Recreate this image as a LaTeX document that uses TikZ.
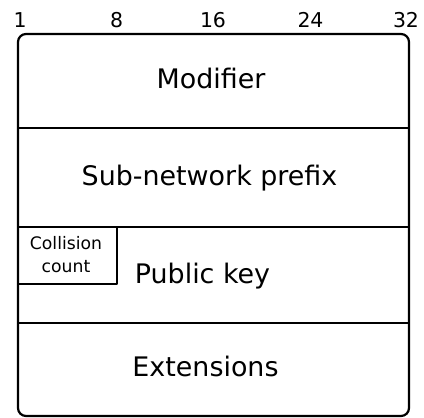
\documentclass[tikz,border=0pt]{standalone}
\usepackage{fontspec}
\setmainfont{DejaVu Sans}
\begin{document}
\begin{tikzpicture}[x=1bp,y=-1bp,
  frame/.style={line width=2.2bp,line join=round},
  bits/.style={anchor=base,inner sep=0pt,font=\fontsize{20.5}{24}\selectfont},
  field/.style={anchor=base,inner sep=0pt,font=\fontsize{27}{32}\selectfont},
  small/.style={anchor=base,inner sep=0pt,font=\fontsize{17.3}{21}\selectfont}]
\useasboundingbox (0,0) rectangle (424,418);
\fill[white] (0,0) rectangle (424,418);
% outer frame
\draw[frame,rounded corners=8bp] (18,34) rectangle (409,416);
% separators
\coordinate (l1) at (18,128); \coordinate (r1) at (409,128);
\coordinate (l2) at (18,227); \coordinate (r2) at (409,227);
\coordinate (l3) at (18,323); \coordinate (r3) at (409,323);
\draw[frame] (l1) -- (r1);
\draw[frame] (l2) -- (r2);
\draw[frame] (l3) -- (r3);
% collision box
\coordinate (c1) at (117,227);
\coordinate (c2) at (117,284);
\coordinate (c3) at (18,284);
\draw[frame] (c1) -- (c2) -- (c3);
% bit numbers
\node[bits] (b1) at (20,27) {1};
\node[bits] (b8) at (116.5,27) {8};
\node[bits] (b16) at (213,27) {16};
\node[bits] (b24) at (310.5,27) {24};
\node[bits] (b32) at (406,27) {32};
% fields
\node[field] (mod) at (211,88) {Modifier};
\node[field] (sub) at (209.5,185) {Sub-network prefix};
\node[field] (pub) at (202.5,283) {Public key};
\node[field] (ext) at (205.5,376) {Extensions};
\node[small] (coll) at (66,249) {Collision};
\node[small] (cnt) at (66,272) {count};
\end{tikzpicture}
\end{document}
